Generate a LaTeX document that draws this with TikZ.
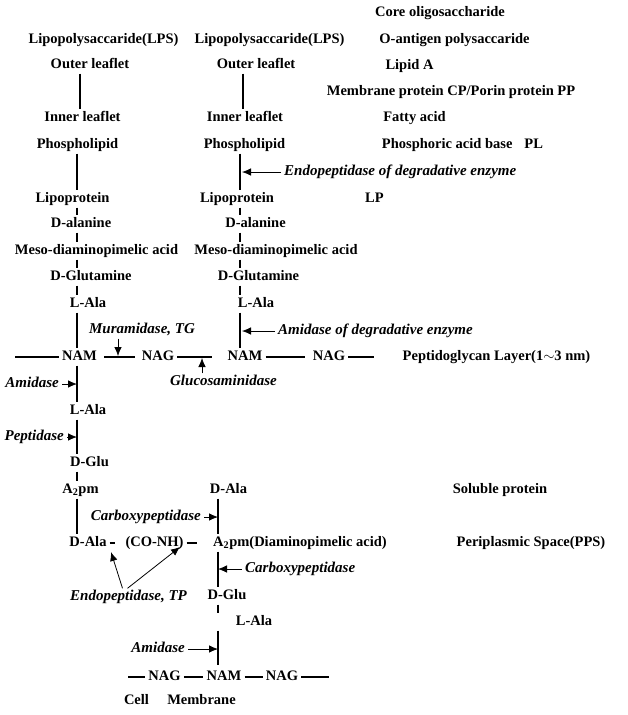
\documentclass[tikz,border=0pt]{standalone}
\usepackage{fontspec}
\setmainfont{Liberation Serif}
\usetikzlibrary{arrows.meta}

\tikzset{
    every node/.style = {font = \bfseries\fontsize{14.5}{16}\selectfont, inner xsep = 3pt, inner ysep = 2pt, text height = 10pt, text depth = 3pt},
    enz/.style = {font = \bfseries\itshape\fontsize{15}{16}\selectfont},
    bond/.style = {line width = 1.2pt},
    thickbond/.style = {line width = 2.2pt},
    enzarrow/.style = {->, > = {Latex[length = 9pt, width = 7.5pt]}, line width = 0.8pt}
}

\begin{document}
\begin{tikzpicture}
        \useasboundingbox (0pt, 0pt) rectangle (627pt, -715pt);

        % Nodes, left column
        \node (lps1) at (103.5pt, -40pt) {Lipopolysaccaride(LPS)};
        \node (ol1) at (90pt, -65pt) {Outer leaflet};
        \node (il1) at (82.5pt, -118pt) {Inner leaflet};
        \node (pl1) at (77.5pt, -145pt) {Phospholipid};
        \node (lp1) at (72.5pt, -199pt) {Lipoprotein};
        \node (dala1) at (81pt, -224pt) {D-alanine};
        \node (meso1) at (96.5pt, -251pt) {Meso-diaminopimelic acid};
        \node (dglut1) at (91pt, -277pt) {D-Glutamine};
        \node (lala1) at (88pt, -304pt) {L-Ala};
        \node (nam1) at (79.5pt, -357pt) {NAM};
        \node (nag1) at (158pt, -357pt) {NAG};
        \node (lala4) at (88pt, -411pt) {L-Ala};
        \node (dglu4) at (89.5pt, -463pt) {D-Glu};
        \node (a2pm1) at (80.5pt, -490pt) {A\textsubscript{2}pm};
        \node (dala4) at (88pt, -543pt) {D-Ala};
        \node (conh) at (154.5pt, -543pt) {(CO-NH)};

        % Nodes, middle column
        \node (lps2) at (269.5pt, -40pt) {Lipopolysaccaride(LPS)};
        \node (ol2) at (256pt, -65pt) {Outer leaflet};
        \node (il2) at (245pt, -118pt) {Inner leaflet};
        \node (pl2) at (244.5pt, -145pt) {Phospholipid};
        \node (lp2) at (237pt, -199pt) {Lipoprotein};
        \node (dala2) at (255.5pt, -224pt) {D-alanine};
        \node (meso2) at (276pt, -251pt) {Meso-diaminopimelic acid};
        \node (dglut2) at (258.5pt, -277pt) {D-Glutamine};
        \node (lala2) at (256pt, -304pt) {L-Ala};
        \node (nam2) at (245pt, -357pt) {NAM};
        \node (nag2) at (329pt, -357pt) {NAG};
        \node (dala5) at (228.5pt, -490pt) {D-Ala};
        \node (a2pm2) at (300pt, -543pt) {A\textsubscript{2}pm(Diaminopimelic acid)};
        \node (dglu5) at (227pt, -596pt) {D-Glu};
        \node (lala5) at (254pt, -622pt) {L-Ala};
        \node (nag3) at (164.5pt, -677pt) {NAG};
        \node (nam3) at (224pt, -677pt) {NAM};
        \node (nag4) at (282pt, -677pt) {NAG};
        \node (cell) at (136.5pt, -701pt) {Cell};
        \node (memb) at (201.5pt, -701pt) {Membrane};

        % Nodes, right column
        \node (core) at (440pt, -13pt) {Core oligosaccharide};
        \node (oag) at (454.5pt, -40pt) {O-antigen polysaccaride};
        \node (lipa) at (409.5pt, -66pt) {Lipid A};
        \node (mprot) at (451pt, -92pt) {Membrane protein CP/Porin protein PP};
        \node (fatty) at (414.5pt, -118pt) {Fatty acid};
        \node (phos) at (462.5pt, -145pt) {Phosphoric acid base\hspace{12pt}PL};
        \node (lp) at (374.5pt, -199pt) {LP};
        \node (pgl) at (496.5pt, -357pt) {Peptidoglycan Layer(1$\sim$3 nm)};
        \node (sol) at (500pt, -490pt) {Soluble protein};
        \node (pps) at (531pt, -543pt) {Periplasmic Space(PPS)};

        % Enzymes
        \node [enz, anchor = west] (endo1) at (281pt, -172pt) {Endopeptidase of degradative enzyme};
        \node [enz, anchor = west] (amid2) at (275pt, -331pt) {Amidase of degradative enzyme};
        \node [enz] (mur) at (142pt, -330pt) {Muramidase, TG};
        \node [enz] (gluc) at (223.5pt, -382pt) {Glucosaminidase};
        \node [enz, anchor = east] (amid1) at (62pt, -384pt) {Amidase};
        \node [enz, anchor = east] (pept) at (67pt, -437pt) {Peptidase};
        \node [enz, anchor = east] (carb1) at (204pt, -517pt) {Carboxypeptidase};
        \node [enz, anchor = west] (carb2) at (242pt, -569pt) {Carboxypeptidase};
        \node [enz] (endo2) at (128.5pt, -597pt) {Endopeptidase, TP};
        \node [enz, anchor = east] (amid3) at (188pt, -649pt) {Amidase};

        % Line positions and arrow targets
        \coordinate (xa) at (80pt, 0pt);
        \coordinate (xb) at (77pt, 0pt);
        \coordinate (xc) at (243pt, 0pt);
        \coordinate (xd) at (240pt, 0pt);
        \coordinate (xe) at (218pt, 0pt);
        \coordinate (rowL) at (15pt, -357pt);
        \coordinate (rowR) at (374pt, -357pt);
        \coordinate (botL) at (128pt, -677pt);
        \coordinate (botR) at (329pt, -677pt);
        \coordinate (murT) at (118pt, -356pt);
        \coordinate (glucT) at (202pt, -358pt);
        \coordinate (endoT) at (242pt, -172pt);
        \coordinate (amidT) at (242pt, -331pt);
        \coordinate (endoA) at (111pt, -552pt);
        \coordinate (endoB) at (180pt, -547pt);

        % Draw the links, left column
        \draw [bond] (ol1.south -| xa) -- (il1.north -| xa);
        \draw [bond] (pl1.south -| xb) -- (lp1.north -| xb);
        \draw [bond] (lp1.south -| xb) -- (dala1.north -| xb);
        \draw [bond] (dala1.south -| xb) -- (meso1.north -| xb);
        \draw [bond] (meso1.south -| xb) -- (dglut1.north -| xb);
        \draw [bond] (dglut1.south -| xb) -- (lala1.north -| xb);
        \draw [bond] (lala1.south -| xb) -- (nam1.north -| xb);
        \draw [bond] (nam1.south -| xb) -- (lala4.north -| xb);
        \draw [bond] (lala4.south -| xb) -- (dglu4.north -| xb);
        \draw [bond] (dglu4.south -| xb) -- (a2pm1.north -| xb);
        \draw [bond] (a2pm1.south -| xb) -- (dala4.north -| xb);
        \draw [bond, shorten > = 7pt, yshift = -2pt] (dala4.east) -- (conh.west);
        \draw [bond, shorten > = 13pt, yshift = -2pt] (conh.east) -- (a2pm2.west);

        % Draw the links, middle column
        \draw [bond] (ol2.south -| xc) -- (il2.north -| xc);
        \draw [thickbond] (pl2.south -| xd) -- (lp2.north -| xd);
        \draw [bond] (lp2.south -| xd) -- (dala2.north -| xd);
        \draw [thickbond] (dala2.south -| xd) -- (meso2.north -| xd);
        \draw [thickbond] (meso2.south -| xd) -- (dglut2.north -| xd);
        \draw [thickbond] (dglut2.south -| xd) -- (lala2.north -| xd);
        \draw [thickbond] (lala2.south -| xd) -- (nam2.north -| xd);
        \draw [thickbond] (dala5.south -| xe) -- (a2pm2.north -| xe);
        \draw [thickbond] (a2pm2.south -| xe) -- (dglu5.north -| xe);
        \draw [bond] (dglu5.south -| xe) -- (lala5.north -| xe);
        \draw [thickbond, shorten > = 3pt] (lala5.south -| xe) -- (nam3.north -| xe);

        % Glycan chains
        \draw [bond] (rowL) -- (nam1.west);
        \draw [bond, shorten < = 4pt, shorten > = 4pt] (nam1.east) -- (nag1.west);
        \draw [bond, shorten > = 12pt] (nag1.east) -- (nam2.west);
        \draw [thickbond, shorten > = 5pt] (nam2.east) -- (nag2.west);
        \draw [bond] (nag2.east) -- (rowR);
        \draw [thickbond] (botL) -- (nag3.west);
        \draw [bond] (nag3.east) -- (nam3.west);
        \draw [bond] (nam3.east) -- (nag4.west);
        \draw [thickbond] (nag4.east) -- (botR);

        % Enzyme arrows
        \draw [enzarrow] (endo1.west) -- (endoT);
        \draw [enzarrow] (amid2.west) -- (amidT);
        \draw [enzarrow] (mur.south -| murT) -- (murT);
        \draw [enzarrow] (gluc.north -| glucT) -- (glucT);
        \draw [enzarrow] (amid1.east) -- (amid1.east -| xb);
        \draw [enzarrow] (pept.east) -- (pept.east -| xb);
        \draw [enzarrow] (carb1.east) -- (carb1.east -| xe);
        \draw [enzarrow] (carb2.west) -- (carb2.west -| xe);
        \draw [enzarrow] (amid3.east) -- (amid3.east -| xe);
        \draw [enzarrow] ([xshift = -6pt]endo2.north) -- (endoA);
        \draw [enzarrow] ([xshift = -1pt]endo2.north) -- (endoB);

    \end{tikzpicture}
\end{document}
